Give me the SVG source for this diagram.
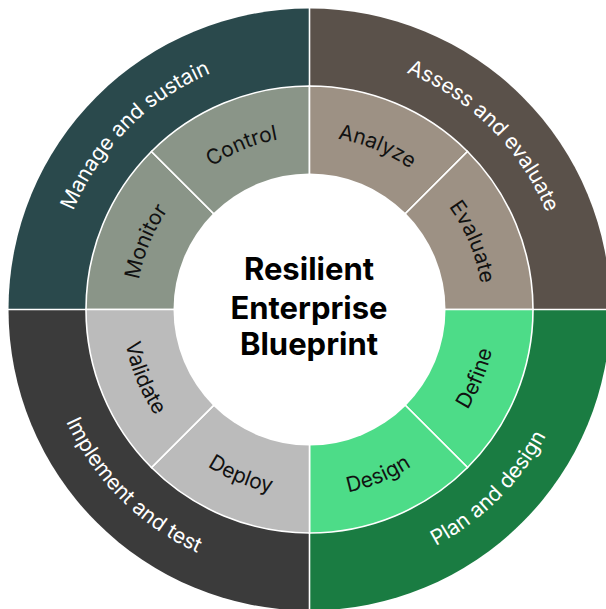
<svg xmlns="http://www.w3.org/2000/svg" width="606" height="609" viewBox="0 0 606 609">
<style>
.sep{stroke:#fff;stroke-width:1.6;fill:none}
.seg{stroke:#fff;stroke-width:1.6}
.outer{font-family:Inter,"Liberation Sans",sans-serif;font-size:21px;fill:#fff}
.inner{font-family:Inter,"Liberation Sans",sans-serif;font-size:21px;fill:#111}
.title{font-family:Inter,"Liberation Sans",sans-serif;font-size:31px;font-weight:700;fill:#000}
</style>
<defs>
<path id="pManage" d="M99.80,456.34 A256,256 0 0 1 456.34,99.80"/>
<path id="pAssess" d="M162.66,99.80 A256,256 0 0 1 519.20,456.34"/>
<path id="pPlan" d="M155.78,529.03 A268,268 0 0 0 529.03,155.78"/>
<path id="pImpl" d="M89.97,155.78 A268,268 0 0 0 463.22,529.03"/>
<path id="pMonitor" d="M216.55,455.41 A173,173 0 0 1 346.94,140.60"/>
<path id="pControl" d="M140.60,346.94 A173,173 0 0 1 455.41,216.55"/>
<path id="pAnalyze" d="M163.59,216.55 A173,173 0 0 1 478.40,346.94"/>
<path id="pEvaluate" d="M272.06,140.60 A173,173 0 0 1 402.45,455.41"/>
<path id="pDefine" d="M269.03,492.07 A187,187 0 0 0 409.98,151.79"/>
<path id="pDesign" d="M151.79,409.98 A187,187 0 0 0 492.07,269.03"/>
<path id="pDeploy" d="M126.93,269.03 A187,187 0 0 0 467.21,409.98"/>
<path id="pValidate" d="M209.02,151.79 A187,187 0 0 0 349.97,492.07"/>
</defs>
<rect width="606" height="609" fill="#fff"/>
<g id="manage-and-sustain">
<path d="M309.5,309.5 L8.5,309.5 A301,301 0 0 1 309.5,8.5 Z" fill="#2a494c"/>
<text class="outer"><textPath href="#pManage" startOffset="50%" text-anchor="middle">Manage and sustain</textPath></text>
</g>
<g id="assess-and-evaluate">
<path d="M309.5,309.5 L309.5,8.5 A301,301 0 0 1 610.5,309.5 Z" fill="#5a514a"/>
<text class="outer"><textPath href="#pAssess" startOffset="50%" text-anchor="middle">Assess and evaluate</textPath></text>
</g>
<g id="plan-and-design">
<path d="M309.5,309.5 L610.5,309.5 A301,301 0 0 1 309.5,610.5 Z" fill="#1a7c42"/>
<text class="outer"><textPath href="#pPlan" startOffset="50%" text-anchor="middle">Plan and design</textPath></text>
</g>
<g id="implement-and-test">
<path d="M309.5,309.5 L309.5,610.5 A301,301 0 0 1 8.5,309.5 Z" fill="#3b3b3b"/>
<text class="outer"><textPath href="#pImpl" startOffset="50%" text-anchor="middle">Implement and test</textPath></text>
</g>
<g id="monitor">
<path class="seg" d="M309.5,309.5 L86,309.5 A223.5,223.5 0 0 1 151.46,151.46 Z" fill="#8a9588"/>
<text class="inner"><textPath href="#pMonitor" startOffset="50%" text-anchor="middle">Monitor</textPath></text>
</g>
<g id="control">
<path class="seg" d="M309.5,309.5 L151.46,151.46 A223.5,223.5 0 0 1 309.5,86 Z" fill="#8a9588"/>
<text class="inner"><textPath href="#pControl" startOffset="50%" text-anchor="middle">Control</textPath></text>
</g>
<g id="analyze">
<path class="seg" d="M309.5,309.5 L309.5,86 A223.5,223.5 0 0 1 467.54,151.46 Z" fill="#9d9184"/>
<text class="inner"><textPath href="#pAnalyze" startOffset="50%" text-anchor="middle">Analyze</textPath></text>
</g>
<g id="evaluate">
<path class="seg" d="M309.5,309.5 L467.54,151.46 A223.5,223.5 0 0 1 533,309.5 Z" fill="#9d9184"/>
<text class="inner"><textPath href="#pEvaluate" startOffset="50%" text-anchor="middle">Evaluate</textPath></text>
</g>
<g id="define">
<path class="seg" d="M309.5,309.5 L533,309.5 A223.5,223.5 0 0 1 467.54,467.54 Z" fill="#4ddc88"/>
<text class="inner"><textPath href="#pDefine" startOffset="50%" text-anchor="middle">Define</textPath></text>
</g>
<g id="design">
<path class="seg" d="M309.5,309.5 L467.54,467.54 A223.5,223.5 0 0 1 309.5,533 Z" fill="#4ddc88"/>
<text class="inner"><textPath href="#pDesign" startOffset="50%" text-anchor="middle">Design</textPath></text>
</g>
<g id="deploy">
<path class="seg" d="M309.5,309.5 L309.5,533 A223.5,223.5 0 0 1 151.46,467.54 Z" fill="#bbbbbb"/>
<text class="inner"><textPath href="#pDeploy" startOffset="50%" text-anchor="middle">Deploy</textPath></text>
</g>
<g id="validate">
<path class="seg" d="M309.5,309.5 L151.46,467.54 A223.5,223.5 0 0 1 86,309.5 Z" fill="#bbbbbb"/>
<text class="inner"><textPath href="#pValidate" startOffset="50%" text-anchor="middle">Validate</textPath></text>
</g>
<g id="connectors">
<line class="sep" x1="309.5" y1="0" x2="309.5" y2="86"/>
<line class="sep" x1="309.5" y1="533" x2="309.5" y2="609"/>
<line class="sep" x1="0" y1="309.5" x2="86" y2="309.5"/>
<line class="sep" x1="533" y1="309.5" x2="606" y2="309.5"/>
</g>
<g id="center">
<circle cx="309.5" cy="309.5" r="136" fill="#fff"/>
<text class="title" text-anchor="middle" x="309" y="280">Resilient</text>
<text class="title" text-anchor="middle" x="309" y="318.5">Enterprise</text>
<text class="title" text-anchor="middle" x="309" y="355">Blueprint</text>
</g>
</svg>
